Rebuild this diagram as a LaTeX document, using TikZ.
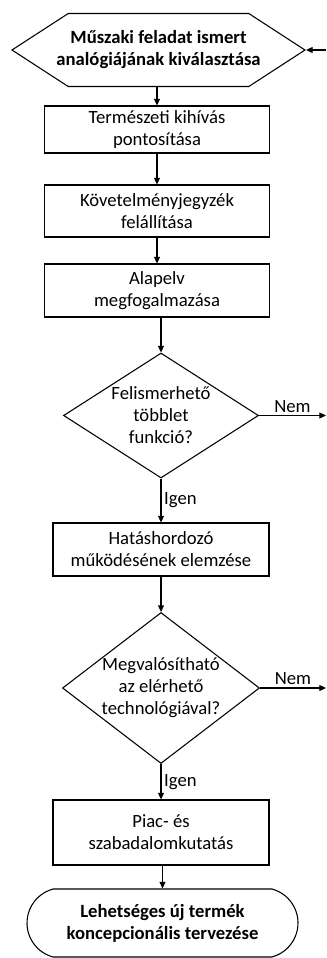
\documentclass[tikz,border=0pt]{standalone}
\usepackage{fontspec}
\setmainfont{Carlito}
\usepackage{tikz}
\usetikzlibrary{shapes,shapes.geometric,shapes.misc,shapes.symbols,positioning,calc,arrows.meta}

\tikzset{
    arr/.style={-{Triangle[length=5pt,width=4.5pt]}, line width=0.8pt},
    stepbox/.style={draw, line width=0.8pt, rectangle, align=center, inner sep=0pt,
        minimum height=#1},
    stepbox/.default=40pt,
    decision/.style={draw, line width=0.8pt, diamond, align=center, inner sep=0pt},
    lbl/.style={inner sep=2pt}
}

\begin{document}
\begin{tikzpicture}[x=0.75pt, y=-0.75pt, font=\fontsize{14}{16.5}\selectfont]
    \useasboundingbox (0,0) rectangle (326,958);

    % Start
    \node[draw, line width=0.8pt, signal, signal to=west and east, signal pointer angle=66,
        minimum width=219.75pt, minimum height=54.75pt, inner xsep=-12pt, inner ysep=0pt,
        align=center, font=\fontsize{14}{16.5}\selectfont\bfseries] (task) at (158.5,50)
        {Műszaki feladat ismert\\analógiájának kiválasztása};

    % Steps
    \node[stepbox=35.25pt, minimum width=168.75pt] (challenge) at (157,129.5)
        {Természeti kihívás\\pontosítása};
    \node[stepbox=39pt, minimum width=168.75pt] (reqlist) at (157,211)
        {Követelményjegyzék\\felállítása};
    \node[stepbox=39.75pt, minimum width=168.75pt] (principle) at (157,290.5)
        {Alapelv\\megfogalmazása};

    \node[decision, aspect=1.56, inner sep=-3pt, minimum width=146.25pt, minimum height=93.75pt]
        (extra) at (161,415.5) {Felismerhető\\többlet\\funkció?};

    \node[stepbox=39.75pt, minimum width=162pt] (effector) at (161,549.5)
        {Hatáshordozó\\működésének elemzése};

    \node[decision, aspect=1.3, inner sep=-8pt, minimum width=147.75pt, minimum height=113.25pt]
        (feasible) at (161,688) {Megvalósítható\\az elérhető\\technológiával?};

    \node[stepbox=48.75pt, minimum width=162pt] (market) at (161,832.5)
        {Piac- és\\szabadalomkutatás};

    % End
    \node[draw, line width=0.8pt, rounded rectangle, rounded rectangle arc length=150,
        minimum width=203.25pt, minimum height=51pt, inner sep=0pt, align=center,
        font=\fontsize{14}{16.5}\selectfont\bfseries] (concept) at (162.5,923)
        {Lehetséges új termék\\koncepcionális tervezése};

    % Free ends
    \coordinate (loopin) at (326,50);
    \coordinate (nemout1) at (326,415.5);
    \coordinate (nemout2) at (326,688);

    % Connectors
    \draw[arr] (loopin) -- (task.east);
    \draw[arr] (task.south -| challenge.north) -- (challenge.north);
    \draw[arr] (challenge) -- (reqlist);
    \draw[arr] (reqlist) -- (principle);
    \draw[arr] (principle.south -| extra.north) -- (extra.north);
    \draw[arr] (extra.south) -- node[lbl, right] {Igen} (effector.north);
    \draw[arr] (extra.east) -- node[lbl, above] {Nem} (nemout1);
    \draw[arr] (effector) -- (feasible);
    \draw[arr] (feasible.south) -- node[lbl, right] {Igen} (market.north);
    \draw[arr] (feasible.east) -- node[lbl, above] {Nem} (nemout2);
    \draw[arr] (market.south -| concept.north) -- (concept.north);
\end{tikzpicture}
\end{document}
